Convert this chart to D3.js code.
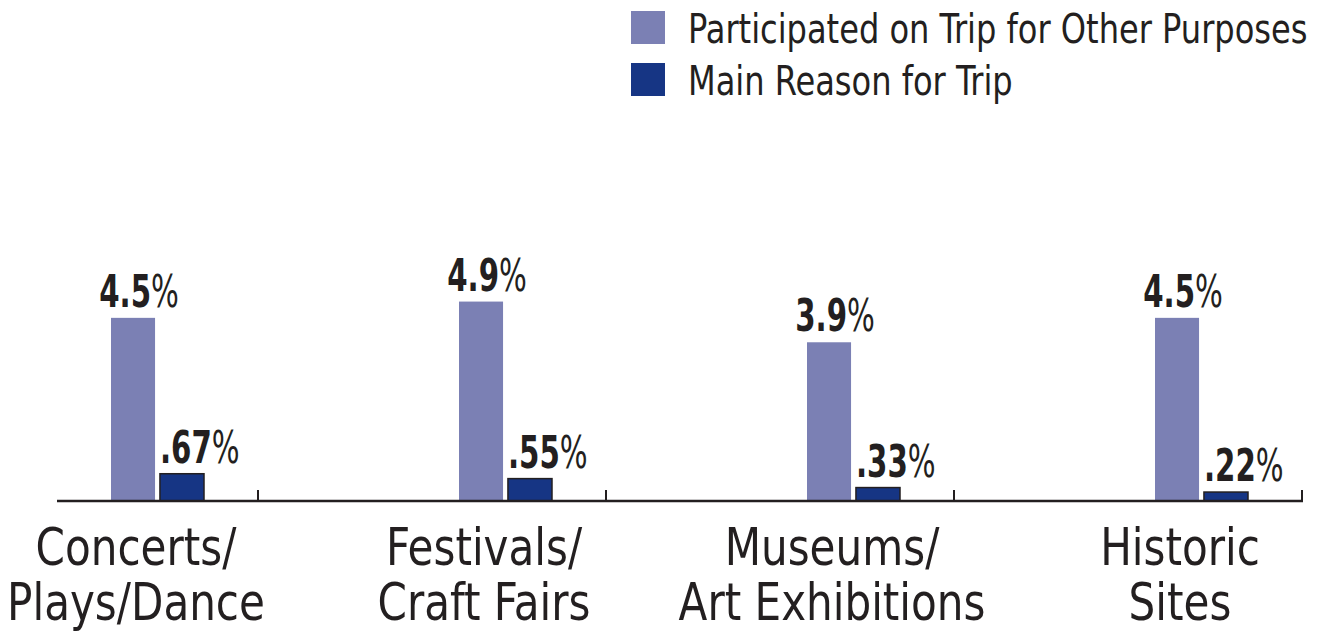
<!DOCTYPE html>
<html>
<head>
<meta charset="utf-8">
<script src="https://cdn.jsdelivr.net/npm/d3@7"></script>
<style>
  body { margin: 0; background: #fff; }
  text { font-family: "DejaVu Sans Condensed", "DejaVu Sans", sans-serif; fill: #231f20; }
</style>
</head>
<body>
<div id="chart"></div>
<script>
// data
let categories = ["Concerts/Plays/Dance", "Festivals/Craft Fairs", "Museums/Art Exhibitions", "Historic Sites"];
let categoryLines = [["Concerts/", "Plays/Dance"], ["Festivals/", "Craft Fairs"], ["Museums/", "Art Exhibitions"], ["Historic", "Sites"]];
let seriesNames = ["Participated on Trip for Other Purposes", "Main Reason for Trip"];
let otherPurposes = [4.5, 4.9, 3.9, 4.5];
let mainReason = [0.67, 0.55, 0.33, 0.22];

let colors = ["#7b80b4", "#163584"];

let svgWidth = 1317;
let svgHeight = 632;
let baseY = 501;

// the original uses a condensed face, squeeze the installed one horizontally
let squeezeText = 0.9;
let squeezeBold = 0.74;
let squeezeLegend = 0.87;

let svg = d3.select("#chart")
    .append("svg")
    .attr("width", svgWidth)
    .attr("height", svgHeight);

let rows = categories.map((c, i) => ({
    cat: c,
    lines: categoryLines[i],
    values: [otherPurposes[i], mainReason[i]]
}));

// outer band scale: first band starts off canvas, as in the original crop
let x0 = d3.scaleBand()
    .domain(categories)
    .range([-90, 1302])
    .paddingInner(0);

let x1 = d3.scaleBand()
    .domain(seriesNames)
    .range([201, 294])
    .paddingInner(0.1);

let y = d3.scaleLinear()
    .domain([0, 5])
    .range([baseY, baseY - 5 * 40.7]);

let fmt = [v => d3.format(".1f")(v), v => d3.format(".2f")(v).replace(/^0/, "")];

// bars
let groups = svg.selectAll(".grp")
    .data(rows)
    .enter()
    .append("g")
    .attr("class", "grp")
    .attr("transform", d => `translate(${x0(d.cat)}, 0)`);

groups.selectAll("rect")
    .data(d => d.values.map((v, j) => ({ key: seriesNames[j], v: v, j: j })))
    .enter()
    .append("rect")
    .attr("x", d => x1(d.key))
    .attr("y", d => y(d.v))
    .attr("width", x1.bandwidth())
    .attr("height", d => baseY - y(d.v))
    .attr("fill", d => colors[d.j])
    .attr("stroke", d => d.j === 1 ? "#231f20" : "none")
    .attr("stroke-width", 1.5);

// value labels
let vLabels = groups.selectAll(".val")
    .data(d => d.values.map((v, j) => ({ key: seriesNames[j], v: v, j: j })))
    .enter()
    .append("g")
    .attr("class", "val")
    .attr("transform", d => {
        let lx = d.j === 0 ? x1(d.key) + x1.bandwidth() / 2 + 6 : x1(d.key);
        return `translate(${lx}, ${y(d.v) - 11}) scale(${squeezeBold}, 1)`;
    })
    .append("text")
    .attr("text-anchor", d => d.j === 0 ? "middle" : "start")
    .attr("font-size", "44px");

vLabels.append("tspan")
    .attr("font-weight", "bold")
    .text(d => fmt[d.j](d.v));

vLabels.append("tspan")
    .text("%");

// axis line with upward ticks at band edges
svg.append("line")
    .attr("x1", 57)
    .attr("x2", x0.range()[1] + 1)
    .attr("y1", baseY)
    .attr("y2", baseY)
    .attr("stroke", "#231f20")
    .attr("stroke-width", 2.5);

svg.selectAll(".tick")
    .data(categories)
    .enter()
    .append("line")
    .attr("class", "tick")
    .attr("x1", d => x0(d) + x0.bandwidth())
    .attr("x2", d => x0(d) + x0.bandwidth())
    .attr("y1", baseY)
    .attr("y2", baseY - 11)
    .attr("stroke", "#231f20")
    .attr("stroke-width", 2);

// category labels, two lines each
svg.selectAll(".cat")
    .data(rows.flatMap(d => d.lines.map((l, k) => ({ l: l, k: k, cx: x0(d.cat) + 226 }))))
    .enter()
    .append("g")
    .attr("class", "cat")
    .attr("transform", d => `translate(${d.cx}, ${565 + d.k * 55}) scale(${squeezeText}, 1)`)
    .append("text")
    .attr("text-anchor", "middle")
    .attr("font-size", "52px")
    .text(d => d.l);

// legend
let legend = svg.selectAll(".leg")
    .data(seriesNames)
    .enter()
    .append("g")
    .attr("class", "leg")
    .attr("transform", (d, i) => `translate(631, ${11 + i * 52})`);

legend.append("rect")
    .attr("width", 34)
    .attr("height", 33)
    .attr("fill", (d, i) => colors[i]);

legend.append("g")
    .attr("transform", `translate(57, 32) scale(${squeezeLegend}, 1)`)
    .append("text")
    .attr("font-size", "41px")
    .text(d => d);
</script>
</body>
</html>
